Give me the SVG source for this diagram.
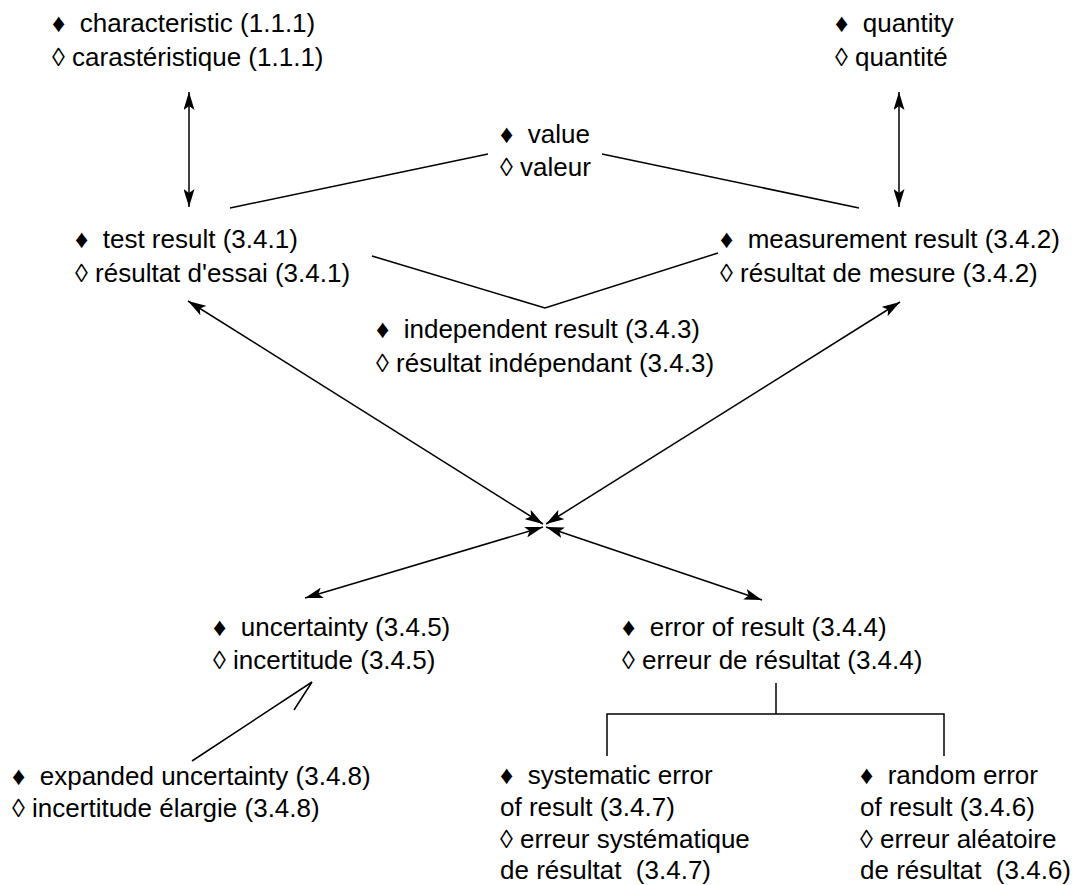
<svg xmlns="http://www.w3.org/2000/svg" width="1073" height="885" viewBox="0 0 1073 885">
  <style>
    text { font-family: "Liberation Sans", Arial, sans-serif; font-size: 26px; fill: #000; white-space: pre; }
    .ln { stroke: #000; stroke-width: 1.5; fill: none; }
  </style>
  <defs>
    <marker id="ah" viewBox="0 0 18 11" refX="18" refY="5.5" markerWidth="18" markerHeight="11" markerUnits="userSpaceOnUse" orient="auto-start-reverse">
      <path d="M0,0 L18,5.5 L0,11 L4,5.5 z" fill="#000"/>
    </marker>
  </defs>
  <rect width="1073" height="885" fill="#fff"/>

  <!-- connectors -->
  <g id="connectors">
    <line class="ln" x1="189" y1="92" x2="189" y2="207" marker-start="url(#ah)" marker-end="url(#ah)"/>
    <line class="ln" x1="899" y1="92" x2="899" y2="207" marker-start="url(#ah)" marker-end="url(#ah)"/>
    <line class="ln" x1="230" y1="208" x2="488" y2="154"/>
    <line class="ln" x1="602" y1="154" x2="859" y2="208"/>
    <polyline class="ln" points="372,256 545,308 718,253"/>
    <line class="ln" x1="188" y1="301" x2="543" y2="524" marker-start="url(#ah)" marker-end="url(#ah)"/>
    <line class="ln" x1="900" y1="302" x2="546" y2="524" marker-start="url(#ah)" marker-end="url(#ah)"/>
    <line class="ln" x1="305" y1="598" x2="543" y2="527" marker-start="url(#ah)" marker-end="url(#ah)"/>
    <line class="ln" x1="762" y1="600" x2="546" y2="527" marker-start="url(#ah)" marker-end="url(#ah)"/>
    <path class="ln" d="M192,761 L312,682 L294,710"/>
    <path class="ln" d="M776,683 V714 M607,756 V714 H944 V756"/>
  </g>

  <g id="characteristic">
    <text x="52" y="32">♦  characteristic (1.1.1)</text>
    <text x="52" y="66">◊ carastéristique (1.1.1)</text>
  </g>
  <g id="quantity">
    <text x="835" y="32">♦  quantity</text>
    <text x="835" y="66">◊ quantité</text>
  </g>
  <g id="value">
    <text x="500" y="143">♦  value</text>
    <text x="500" y="176">◊ valeur</text>
  </g>
  <g id="test-result">
    <text x="75" y="248">♦  test result (3.4.1)</text>
    <text x="75" y="282">◊ résultat d'essai (3.4.1)</text>
  </g>
  <g id="measurement-result">
    <text x="720" y="248">♦  measurement result (3.4.2)</text>
    <text x="720" y="282">◊ résultat de mesure (3.4.2)</text>
  </g>
  <g id="independent-result">
    <text x="376" y="338">♦  independent result (3.4.3)</text>
    <text x="376" y="372">◊ résultat indépendant (3.4.3)</text>
  </g>
  <g id="uncertainty">
    <text x="213" y="636">♦  uncertainty (3.4.5)</text>
    <text x="213" y="669">◊ incertitude (3.4.5)</text>
  </g>
  <g id="error-of-result">
    <text x="622" y="636">♦  error of result (3.4.4)</text>
    <text x="622" y="669">◊ erreur de résultat (3.4.4)</text>
  </g>
  <g id="expanded-uncertainty">
    <text x="12" y="785">♦  expanded uncertainty (3.4.8)</text>
    <text x="12" y="817">◊ incertitude élargie (3.4.8)</text>
  </g>
  <g id="systematic-error">
    <text x="500" y="784">♦  systematic error</text>
    <text x="500" y="816">of result (3.4.7)</text>
    <text x="500" y="848">◊ erreur systématique</text>
    <text x="500" y="879">de résultat  (3.4.7)</text>
  </g>
  <g id="random-error">
    <text x="860" y="784">♦  random error</text>
    <text x="860" y="816">of result (3.4.6)</text>
    <text x="860" y="848">◊ erreur aléatoire</text>
    <text x="860" y="879">de résultat  (3.4.6)</text>
  </g>
</svg>
